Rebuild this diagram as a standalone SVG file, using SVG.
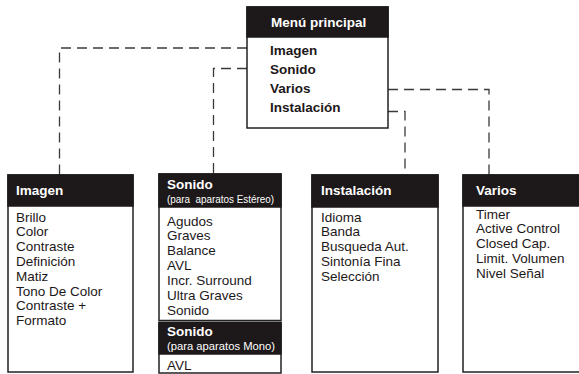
<svg xmlns="http://www.w3.org/2000/svg" width="579" height="374" viewBox="0 0 579 374">
<style>
.box{fill:#fff;stroke:#222;stroke-width:1.5}
.hdr{fill:#1d1819;stroke:#1d1819;stroke-width:1.5}
.ht{font-family:"Liberation Sans",Arial,sans-serif;font-size:13.5px;font-weight:bold;fill:#fff}
.mt{font-family:"Liberation Sans",Arial,sans-serif;font-size:13.5px;font-weight:bold;fill:#1d1819}
.it{font-family:"Liberation Sans",Arial,sans-serif;font-size:13.5px;fill:#1d1819}
.st{font-family:"Liberation Sans",Arial,sans-serif;font-size:10px;fill:#fff;white-space:pre}
.cn{fill:none;stroke:#3a3a3a;stroke-width:1.3;stroke-dasharray:10,6}
</style>
<rect width="579" height="374" fill="#fff"/>
<g id="connectors">
<path class="cn" d="M247,48 H59.5 V175"/>
<path class="cn" d="M247,68.5 H213.5 V174"/>
<path class="cn" d="M388,89.5 H489 V175"/>
<path class="cn" d="M388,111.5 H405 V175"/>
</g>
<g id="menu-principal">
<rect class="box" x="247" y="7" width="141" height="121"/>
<rect class="hdr" x="247" y="7" width="141" height="30"/>
<text class="ht" x="271" y="27">Menú principal</text>
<text class="mt" x="270" y="55">Imagen</text>
<text class="mt" x="270" y="74">Sonido</text>
<text class="mt" x="270" y="93">Varios</text>
<text class="mt" x="270" y="112">Instalación</text>
</g>
<g id="imagen">
<rect class="box" x="8" y="175" width="125" height="197"/>
<rect class="hdr" x="8" y="175" width="125" height="31"/>
<text class="ht" x="16" y="195">Imagen</text>
<text class="it" x="16" y="221.5">Brillo</text>
<text class="it" x="16" y="236.3">Color</text>
<text class="it" x="16" y="251.1">Contraste</text>
<text class="it" x="16" y="265.9">Definición</text>
<text class="it" x="16" y="280.7">Matiz</text>
<text class="it" x="16" y="295.5">Tono De Color</text>
<text class="it" x="16" y="310.3">Contraste +</text>
<text class="it" x="16" y="325.1">Formato</text>
</g>
<g id="sonido-estereo">
<rect class="box" x="159" y="174" width="122" height="146.5"/>
<rect class="hdr" x="159" y="174" width="122" height="33"/>
<text class="ht" x="167" y="188.5">Sonido</text>
<text class="st" x="167" y="202.5" xml:space="preserve" textLength="107" lengthAdjust="spacingAndGlyphs">(para  aparatos Estéreo)</text>
<text class="it" x="167" y="225.5">Agudos</text>
<text class="it" x="167" y="240.4">Graves</text>
<text class="it" x="167" y="255.3">Balance</text>
<text class="it" x="167" y="270.2">AVL</text>
<text class="it" x="167" y="285.1">Incr. Surround</text>
<text class="it" x="167" y="300">Ultra Graves</text>
<text class="it" x="167" y="314.9">Sonido</text>
</g>
<g id="sonido-mono">
<rect class="box" x="159" y="322.5" width="122" height="50.5"/>
<rect class="hdr" x="159" y="322.5" width="122" height="31.5"/>
<text class="ht" x="167" y="335.5">Sonido</text>
<text class="st" x="167" y="349.5" textLength="108" lengthAdjust="spacingAndGlyphs">(para aparatos Mono)</text>
<text class="it" x="167" y="369.5">AVL</text>
</g>
<g id="instalacion">
<rect class="box" x="312" y="175" width="126" height="197"/>
<rect class="hdr" x="312" y="175" width="126" height="32"/>
<text class="ht" x="321" y="195">Instalación</text>
<text class="it" x="321" y="221.5">Idioma</text>
<text class="it" x="321" y="236.3">Banda</text>
<text class="it" x="321" y="251.1">Busqueda Aut.</text>
<text class="it" x="321" y="265.9">Sintonía Fina</text>
<text class="it" x="321" y="280.7">Selección</text>
</g>
<g id="varios">
<rect class="box" x="463" y="175" width="130" height="197"/>
<rect class="hdr" x="463" y="175" width="130" height="31"/>
<text class="ht" x="476" y="195">Varios</text>
<text class="it" x="476" y="218.5">Timer</text>
<text class="it" x="476" y="233.3">Active Control</text>
<text class="it" x="476" y="248.1">Closed Cap.</text>
<text class="it" x="476" y="262.9">Limit. Volumen</text>
<text class="it" x="476" y="277.7">Nivel Señal</text>
</g>
</svg>
